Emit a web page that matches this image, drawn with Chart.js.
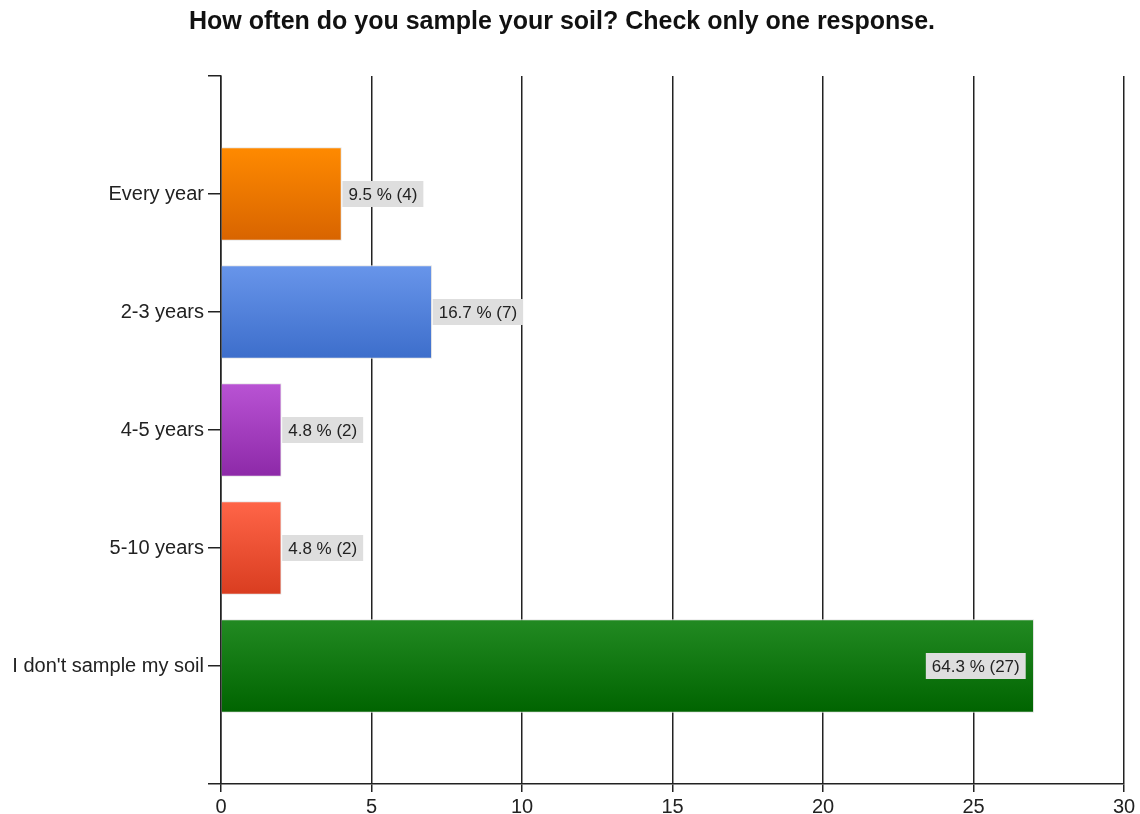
<!DOCTYPE html>
<html lang="en">
<head>
    <meta charset="UTF-8">
    <title>How often do you sample your soil?</title>
    <style>
        html, body { margin: 0; padding: 0; background: #fff; }
        #wrap { width: 1140px; height: 814px; }
    </style>
    <script src="https://cdn.jsdelivr.net/npm/chart.js"></script>
</head>
<body>
    <div id="wrap"><canvas id="chart" width="1140" height="814"></canvas></div>

    <script>
        // answers and counts
        const categories = ['Every year', '2-3 years', '4-5 years', '5-10 years', "I don't sample my soil"];
        const counts = [4, 7, 2, 2, 27];
        const percents = ['9.5', '16.7', '4.8', '4.8', '64.3'];
        const xTicks = [0, 5, 10, 15, 20, 25, 30];

        const topColors = ['#ff8a00', '#6895ea', '#b953d4', '#ff6548', '#228a22'];
        const bottomColors = ['#d86400', '#3d6ecb', '#8d29a8', '#d93d20', '#006400'];

        const BAR_H = 93;
        const font = 'Arial, "Liberation Sans", sans-serif';

        function barFill(ctx) {
            const chart = ctx.chart;
            const i = ctx.dataIndex;
            if (!chart.chartArea || i === undefined) return topColors[i] || '#888';
            const y = chart.scales.y.getPixelForValue(i + 1);
            const g = chart.ctx.createLinearGradient(0, y - BAR_H / 2, 0, y + BAR_H / 2);
            g.addColorStop(0, topColors[i]);
            g.addColorStop(1, bottomColors[i]);
            return g;
        }

        // gray value boxes next to (or inside) the bar ends
        const valueLabels = {
            id: 'valueLabels',
            afterDatasetsDraw(chart) {
                const c = chart.ctx;
                const meta = chart.getDatasetMeta(0);
                c.save();
                c.font = '17px ' + font;
                c.textBaseline = 'middle';
                meta.data.forEach((bar, i) => {
                    const txt = percents[i] + ' % (' + counts[i] + ')';
                    const w = c.measureText(txt).width + 12;
                    const h = 26;
                    let left = bar.x + 1;
                    if (left + w > chart.chartArea.right) left = bar.x - 8 - w;
                    c.fillStyle = '#dedede';
                    c.fillRect(left, bar.y - h / 2, w, h);
                    c.fillStyle = '#222';
                    c.fillText(txt, left + 6, bar.y + 1);
                });
                c.restore();
            }
        };

        new Chart(document.getElementById('chart'), {
            type: 'bar',
            data: {
                datasets: [{
                    data: counts.map((v, i) => ({ x: v, y: i + 1 })),
                    backgroundColor: barFill,
                    borderColor: '#e4e4e4',
                    borderWidth: 1,
                    barThickness: BAR_H
                }]
            },
            options: {
                indexAxis: 'y',
                responsive: false,
                animation: false,
                maintainAspectRatio: false,
                devicePixelRatio: 1,
                layout: { padding: { left: 0, right: 16, top: 0, bottom: 0 } },
                plugins: {
                    legend: { display: false },
                    tooltip: { enabled: false },
                    title: {
                        display: true,
                        text: 'How often do you sample your soil? Check only one response.',
                        color: '#111',
                        font: { family: font, size: 25, weight: 'bold' },
                        padding: { top: 7, bottom: 39 }
                    }
                },
                scales: {
                    x: {
                        type: 'linear',
                        min: 0,
                        max: 30,
                        afterBuildTicks: s => { s.ticks = xTicks.map(v => ({ value: v })); },
                        ticks: { color: '#222', padding: 3, maxRotation: 0, font: { family: font, size: 20 } },
                        grid: { color: '#222', lineWidth: 1.5, tickLength: 8 },
                        border: { color: '#222', width: 1.5 },
                        afterFit: s => { s.height = 30; }
                    },
                    y: {
                        type: 'linear',
                        reverse: true,
                        offset: false,
                        min: 0,
                        max: 6,
                        afterBuildTicks: s => { s.ticks = [0, 1, 2, 3, 4, 5, 6].map(v => ({ value: v })); },
                        ticks: {
                            color: '#222',
                            padding: 4,
                            font: { family: font, size: 20 },
                            callback: v => categories[v - 1] || ''
                        },
                        grid: { color: '#222', lineWidth: 1.5, offset: false, drawOnChartArea: false, tickLength: 13 },
                        border: { color: '#222', width: 1.5 },
                        afterFit: s => { s.width = 221; }
                    }
                }
            },
            plugins: [valueLabels]
        });
    </script>
</body>
</html>
